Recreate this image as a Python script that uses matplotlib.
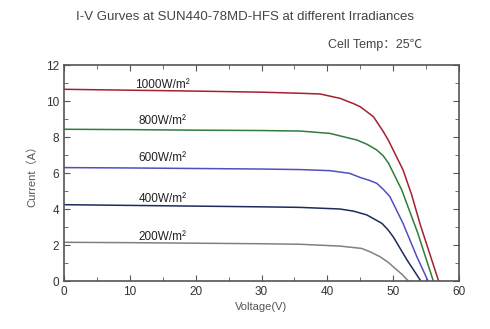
import matplotlib
matplotlib.use("Agg")
import matplotlib.pyplot as plt
from matplotlib.ticker import MultipleLocator

plt.rcParams['font.family'] = ['Liberation Sans', 'Noto Sans CJK SC', 'DejaVu Sans']

# I-V curves (voltage V, current A)
v_1000 = [0, 10, 20, 30, 35.9, 38.9, 41.9, 44.0, 45.0, 47.0, 48.5, 49.3, 50.0, 51.5, 52.8, 54.1, 56.9]
i_1000 = [10.65, 10.6, 10.55, 10.49, 10.43, 10.39, 10.15, 9.85, 9.68, 9.13, 8.3, 7.8, 7.28, 6.17, 4.8, 3.15, 0]
v_800 = [0, 10, 20, 30, 35.9, 40.4, 44.5, 46.0, 47.5, 48.5, 49.3, 49.8, 51.3, 53.7, 56.1]
i_800 = [8.43, 8.41, 8.38, 8.36, 8.33, 8.2, 7.83, 7.6, 7.28, 6.95, 6.54, 6.17, 5.06, 2.7, 0]
v_600 = [0, 10, 20, 30, 35.9, 40.4, 43.4, 45.0, 46.3, 47.5, 48.5, 49.5, 51.5, 53.6, 55.3]
i_600 = [6.3, 6.28, 6.25, 6.22, 6.19, 6.13, 5.98, 5.75, 5.6, 5.43, 5.09, 4.69, 3.2, 1.35, 0]
v_400 = [0, 10, 20, 30, 35.9, 41.9, 44.0, 46.0, 48.3, 49.2, 50.0, 52.1, 54.2]
i_400 = [4.24, 4.2, 4.16, 4.12, 4.09, 4.0, 3.88, 3.67, 3.2, 2.85, 2.46, 1.17, 0]
v_200 = [0, 10, 20, 30, 35.9, 41.9, 45.2, 46.5, 48.0, 49.2, 50.3, 51.4, 52.3]
i_200 = [2.15, 2.13, 2.1, 2.07, 2.04, 1.94, 1.81, 1.62, 1.35, 1.05, 0.7, 0.35, 0]

labels = ['1000W/m²', '800W/m²', '600W/m²', '400W/m²', '200W/m²']
label_y = [10.9, 8.9, 6.85, 4.55, 2.45]
colors = ['#a5202e', '#2f7d3c', '#4f4fc4', '#1b2b5e', '#808080']

fig = plt.figure(figsize=(4.9, 3.29), dpi=100)
ax = fig.add_axes([64 / 490, 48 / 329, 395 / 490, 216 / 329])

series = [(v_1000, i_1000), (v_800, i_800), (v_600, i_600), (v_400, i_400), (v_200, i_200)]
for (v, i), c, lab, ly in zip(series, colors, labels, label_y):
    ax.plot(v, i, color=c, lw=1.1)
    ax.text(15, ly, lab, ha='center', va='center', fontsize=8.5, color='#222222')

ax.set_xlim(0, 60)
ax.set_ylim(0, 12)
ax.xaxis.set_major_locator(MultipleLocator(10))
ax.xaxis.set_minor_locator(MultipleLocator(5))
ax.yaxis.set_major_locator(MultipleLocator(2))
ax.yaxis.set_minor_locator(MultipleLocator(1))
ax.tick_params(which='both', direction='in', top=True, right=True,
               labelsize=8.5, colors='#555555', labelcolor='#333333')
ax.tick_params(which='major', length=4)
ax.tick_params(which='minor', length=3)
for s in ax.spines.values():
    s.set_color('#555555')
    s.set_linewidth(1.2)

ax.set_xlabel('Voltage(V)', fontsize=8, color='#555555', labelpad=3)
ax.set_ylabel('Current（A）', fontsize=8, color='#555555', labelpad=6)

fig.text(0.5, 0.948, 'I-V Gurves at SUN440-78MD-HFS at different Irradiances',
         ha='center', va='center', fontsize=9.5, color='#444444')
fig.text(375 / 490, 1 - 45 / 329, 'Cell Temp：25℃', ha='center', va='center',
         fontsize=9, color='#444444')

fig.savefig('out.png', dpi=100)
